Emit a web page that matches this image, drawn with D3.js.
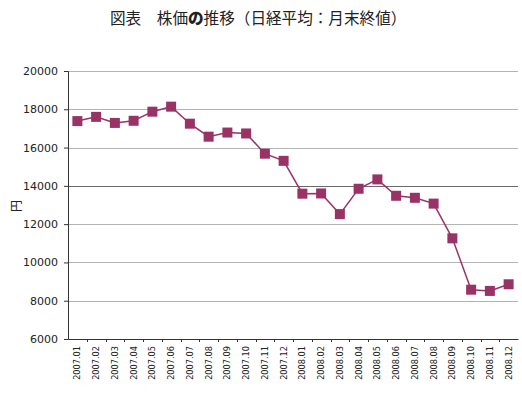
<!DOCTYPE html>
<html lang="ja">
<head>
<meta charset="UTF-8">
<title>株価の推移</title>
<script src="https://d3js.org/d3.v7.min.js"></script>
<style>
    body { margin: 0; background: #fff; }
    .title { font-family: "Noto Sans CJK JP", sans-serif; font-size: 15.6px; fill: #222; }
    .ytick text { font-family: "DejaVu Sans", sans-serif; font-size: 11px; fill: #222; }
    .xtick text { font-family: "DejaVu Sans", sans-serif; font-size: 8.2px; fill: #222; }
</style>
</head>
<body>
<div id="chart"></div>
<script>
    const months = [
        "2007.01", "2007.02", "2007.03", "2007.04", "2007.05", "2007.06",
        "2007.07", "2007.08", "2007.09", "2007.10", "2007.11", "2007.12",
        "2008.01", "2008.02", "2008.03", "2008.04", "2008.05", "2008.06",
        "2008.07", "2008.08", "2008.09", "2008.10", "2008.11", "2008.12"
    ];
    const closes = [
        17383, 17604, 17288, 17400, 17875, 18138,
        17248, 16569, 16785, 16737, 15680, 15307,
        13592, 13603, 12525, 13849, 14338, 13481,
        13376, 13072, 11259, 8576, 8512, 8859
    ];
    const yTicks = [6000, 8000, 10000, 12000, 14000, 16000, 18000, 20000];

    const W = 522, H = 396;
    const margin = { top: 71, right: 4, bottom: 57, left: 68 };
    const width = W - margin.left - margin.right;
    const height = H - margin.top - margin.bottom;
    const color = "#993366";

    const svg = d3.select("#chart").append("svg")
        .attr("width", W)
        .attr("height", H);

    // title, with the bold "の"
    const title = svg.append("text")
        .attr("class", "title")
        .attr("x", 110)
        .attr("y", 24);
    title.append("tspan").text("図表　株価");
    title.append("tspan").style("font-weight", "900").text("の");
    title.append("tspan").text("推移（日経平均：月末終値）");

    const g = svg.append("g")
        .attr("transform", "translate(" + margin.left + "," + margin.top + ")");

    const x = d3.scaleBand()
        .domain(months)
        .range([0, width]);

    const y = d3.scaleLinear()
        .domain([6000, 20000])
        .range([height, 0]);

    // horizontal grid
    g.append("g")
        .selectAll("line")
        .data(yTicks.filter(d => d > 6000))
        .enter().append("line")
        .attr("x1", 0)
        .attr("x2", width)
        .attr("y1", d => Math.round(y(d)) + 0.5)
        .attr("y2", d => Math.round(y(d)) + 0.5)
        .attr("stroke", d => d === 14000 ? "#6a6a6a" : "#b4b4b4")
        .attr("stroke-width", 1.2);

    // y axis
    const yAxis = g.append("g")
        .attr("class", "ytick")
        .call(d3.axisLeft(y).tickValues(yTicks).tickFormat(d3.format("d")).tickSize(4).tickPadding(6));
    yAxis.select(".domain").attr("stroke", "#333");
    yAxis.selectAll(".tick line").attr("stroke", "#333");

    // x axis: ticks on band boundaries
    const xAxis = g.append("g")
        .attr("class", "xtick")
        .attr("transform", "translate(0," + height + ")")
        .call(d3.axisBottom(x).tickSize(0).tickPadding(0));
    xAxis.select(".domain").attr("stroke", "#333");
    xAxis.selectAll(".tick text")
        .attr("transform", "rotate(-90)")
        .attr("x", -7)
        .attr("y", 0)
        .attr("dy", "0.35em")
        .attr("text-anchor", "end");
    xAxis.append("g")
        .selectAll("line")
        .data(months.slice(1))
        .enter().append("line")
        .attr("x1", d => Math.round(x(d)) + 0.5)
        .attr("x2", d => Math.round(x(d)) + 0.5)
        .attr("y1", 0)
        .attr("y2", 3)
        .attr("stroke", "#333");

    // y axis title
    svg.append("text")
        .attr("transform", "translate(17,206) rotate(-90)")
        .attr("text-anchor", "middle")
        .attr("dy", "0.35em")
        .style("font-family", "'Noto Sans CJK JP', sans-serif")
        .style("font-size", "12px")
        .style("fill", "#222")
        .text("円");

    // line + markers
    const pts = months.map((m, i) => [x(m) + x.bandwidth() / 2, y(closes[i])]);
    g.append("path")
        .datum(pts)
        .attr("fill", "none")
        .attr("stroke", color)
        .attr("stroke-width", 1.5)
        .attr("d", d3.line());

    g.append("g")
        .selectAll("rect")
        .data(months)
        .enter().append("rect")
        .attr("x", (d, i) => x(d) + x.bandwidth() / 2 - 5)
        .attr("y", (d, i) => y(closes[i]) - 5)
        .attr("width", 10)
        .attr("height", 10)
        .attr("fill", color);
</script>
</body>
</html>
